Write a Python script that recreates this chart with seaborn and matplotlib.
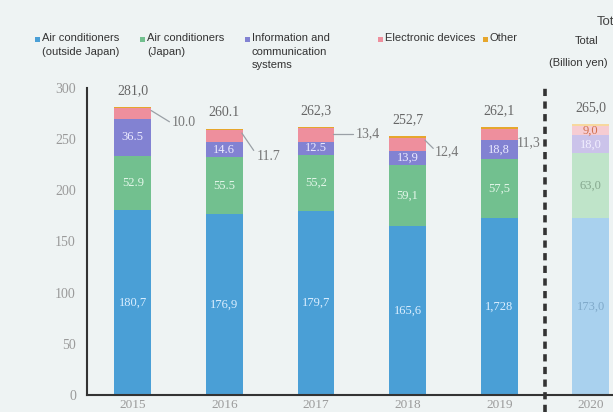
import numpy as np
import pandas as pd
import matplotlib
matplotlib.use("Agg")
import matplotlib.pyplot as plt
import seaborn as sns
from matplotlib.patches import Rectangle

# ---------------- data ----------------
years = ["2015", "2016", "2017", "2018", "2019", "2020"]
ac_overseas = [180.7, 176.9, 179.7, 165.6, 172.8, 173.0]
ac_japan = [52.9, 55.5, 55.2, 59.1, 57.5, 63.0]
info_comm = [36.5, 14.6, 12.5, 13.9, 18.8, 18.0]
electronic = [10.0, 11.7, 13.4, 12.4, 11.3, 9.0]
other = [0.9, 1.4, 1.5, 1.7, 1.7, 2.0]
totals = [281.0, 260.1, 262.3, 252.7, 262.1, 265.0]

total_labels = ["281,0", "260.1", "262,3", "252,7", "262,1", "265,0"]
ac_overseas_labels = ["180,7", "176,9", "179,7", "165,6", "1,728", "173,0"]
ac_japan_labels = ["52.9", "55.5", "55,2", "59,1", "57,5", "63,0"]
info_labels = ["36.5", "14.6", "12.5", "13,9", "18,8", "18,0"]
elec_labels = ["10.0", "11.7", "13,4", "12,4", "11,3", "9,0"]

legend_labels = ["Air conditioners\n(outside Japan)", "Air conditioners\n(Japan)",
                 "Information and\ncommunication\nsystems", "Electronic devices", "Other"]

# ---------------- style ----------------
BG = "#eef3f3"
colors = ["#4a9fd6", "#72c08f", "#8282d2", "#ee8f9d", "#e6a62c"]
light = ["#a9d1ee", "#bfe4c9", "#cbc3ea", "#f6ccd2", "#f7d89e"]
num_font = ["Liberation Serif", "DejaVu Serif"]
txt_font = ["Liberation Sans Narrow", "Liberation Sans", "DejaVu Sans"]

sns.set_style("white")
plt.rcParams["font.family"] = txt_font

W, H = 613, 412
fig = plt.figure(figsize=(W / 100, H / 100), dpi=100, facecolor=BG)
ax_left, ax_right = 87, 87 + 6 * 91.6
ax_bottom, ax_top = 395, 88
ax = fig.add_axes([ax_left / W, 1 - ax_bottom / H, (ax_right - ax_left) / W,
                   (ax_bottom - ax_top) / H])
ax.set_facecolor(BG)

series = [ac_overseas, ac_japan, info_comm, electronic, other]
cum = np.cumsum(np.array(series), axis=0)

df = pd.DataFrame({"year": years})
for i in reversed(range(len(series))):
    df["top"] = cum[i]
    pal = {y: (light[i] if y == "2020" else colors[i]) for y in years}
    sns.barplot(data=df, x="year", y="top", hue="year", palette=pal, order=years,
                width=0.4, saturation=1, legend=False, linewidth=0, ax=ax)

ax.set_xlim(-0.5, 5.5)
ax.set_ylim(0, 300)
ax.set_yticks(range(0, 301, 50))
ax.set_xlabel("")
ax.set_ylabel("")
for s in ["top", "right"]:
    ax.spines[s].set_visible(False)
for s in ["left", "bottom"]:
    ax.spines[s].set_color("#333333")
    ax.spines[s].set_linewidth(1.5)
ax.tick_params(axis="y", direction="out", length=4, width=1.3, color="#333333",
               labelcolor="#9a9a9a", labelsize=10, pad=4)
ax.tick_params(axis="x", length=0, labelcolor="#9a9a9a", labelsize=9.5, pad=3)
ax.set_xticks([0.5, 1.5, 2.5, 3.5], minor=True)
ax.tick_params(axis="x", which="minor", direction="inout", length=5, width=1.3,
               color="#333333")
for lab in ax.get_yticklabels() + ax.get_xticklabels():
    lab.set_fontfamily(num_font)

# dashed separator
ax.plot([4.5, 4.5], [-17, 301], color="#333333", lw=2.6,
        linestyle=(0, (2.0, 1.5)), clip_on=False, zorder=5)

# ---------------- labels ----------------
in_cols = ["#dcefff", "#e4f7ea", "#ecebff"]
in_cols_2020 = ["#7fa9c9", "#86a88f", "#f2efff"]
for j in range(len(years)):
    bottoms = [0, cum[0][j], cum[1][j]]
    for k, (vals, labs) in enumerate([(ac_overseas, ac_overseas_labels),
                                      (ac_japan, ac_japan_labels),
                                      (info_comm, info_labels)]):
        c = in_cols_2020[k] if years[j] == "2020" else in_cols[k]
        ax.text(j, bottoms[k] + vals[j] / 2, labs[j], ha="center", va="center",
                fontsize=9, color=c, family=num_font, zorder=6)
    ax.text(j, totals[j] + 16, total_labels[j], ha="center", va="center",
            fontsize=10, color="#666666", family=num_font)

# electronic devices labels
ax.text(5, cum[2][5] + electronic[5] / 2, elec_labels[5], ha="center", va="center",
        fontsize=9, color="#d0704e", family=num_font, zorder=6)
ann = [  # (text x, text y, line start, line end)
    (0.42, 266, (0.2, 278), (0.40, 267)),
    (1.35, 233, (1.19, 256), (1.32, 239)),
    (2.43, 255, (2.19, 255), (2.40, 255)),
    (3.30, 237.5, (3.19, 249), (3.28, 241)),
    (4.19, 247, None, None),
]
for j, (tx, ty, p0, p1) in enumerate(ann):
    ax.text(tx, ty, elec_labels[j], ha="left", va="center", fontsize=10,
            color="#777777", family=num_font, zorder=6)
    if p0 is not None:
        ax.plot([p0[0], p1[0]], [p0[1], p1[1]], color="#9aa0a6", lw=0.9, zorder=6)

# ---------------- legend ----------------
def fx(px):
    return px / W


def fy(py):
    return 1 - py / H


sq_x = [35, 140, 245, 378, 483]
for i, (sx, lab) in enumerate(zip(sq_x, legend_labels)):
    fig.patches.append(Rectangle((fx(sx), fy(42)), 5 / W, 5 / H, transform=fig.transFigure,
                                 facecolor=colors[i], edgecolor="none"))
    fig.text(fx(sx + 7), fy(33), lab, ha="left", va="top", fontsize=8,
             color="#333333", linespacing=1.45)

fig.text(fx(587), fy(41), "Total", ha="center", va="center", fontsize=8, color="#333333")
fig.text(fx(578), fy(63), "(Billion yen)", ha="center", va="center", fontsize=8,
         color="#333333")
fig.text(fx(597), fy(22), "Total", ha="left", va="center", fontsize=9.5, color="#444444")

fig.savefig("out.png", dpi=100, facecolor=BG)
